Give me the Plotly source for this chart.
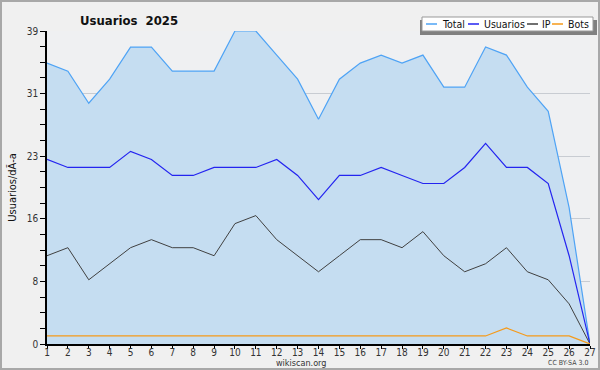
import plotly.graph_objects as go

days = list(range(1, 28))
total = [35, 34, 30, 33, 37, 37, 34, 34, 34, 39, 39, 36, 33, 28, 33, 35, 36, 35, 36, 32, 32, 37, 36, 32, 29, 17, 0]
usuarios = [23, 22, 22, 22, 24, 23, 21, 21, 22, 22, 22, 23, 21, 18, 21, 21, 22, 21, 20, 20, 22, 25, 22, 22, 20, 11, 0]
ip = [11, 12, 8, 10, 12, 13, 12, 12, 11, 15, 16, 13, 11, 9, 11, 13, 13, 12, 14, 11, 9, 10, 12, 9, 8, 5, 0]
bots = [1, 1, 1, 1, 1, 1, 1, 1, 1, 1, 1, 1, 1, 1, 1, 1, 1, 1, 1, 1, 1, 1, 2, 1, 1, 1, 0]
ytick_vals = [0, 7.8, 15.6, 23.4, 31.2, 39]
ytick_text = ["0", "8", "16", "23", "31", "39"]
series_names = ["Total", "Usuarios", "IP", "Bots"]
series_colors = ["#4ea3f5", "#2424f0", "#404040", "#f59a1a"]

W, H = 600, 370
L, R, T, B = 47, 10, 31, 26
pw, ph = W - L - R, H - T - B

fig = go.Figure()
fig.add_trace(go.Scatter(x=days, y=total, name=series_names[0], mode="lines",
                         line=dict(color=series_colors[0], width=1.2),
                         fill="tozeroy", fillcolor="#c5ddf1", showlegend=False))
fig.add_trace(go.Scatter(x=days, y=usuarios, name=series_names[1], mode="lines",
                         line=dict(color=series_colors[1], width=1.2), showlegend=False))
fig.add_trace(go.Scatter(x=days, y=ip, name=series_names[2], mode="lines",
                         line=dict(color=series_colors[2], width=1), showlegend=False))
fig.add_trace(go.Scatter(x=days, y=bots, name=series_names[3], mode="lines",
                         line=dict(color=series_colors[3], width=1.2), showlegend=False))

font = "DejaVu Sans Condensed, DejaVu Sans, sans-serif"

def px_x(p):
    return (p - L) / pw

def px_y(p):
    return (H - B - p) / ph

shapes = [
    dict(type="rect", xref="paper", yref="paper",
         x0=px_x(1), x1=px_x(599), y0=px_y(369), y1=px_y(1),
         line=dict(color="#a8a8a8", width=2), fillcolor="rgba(0,0,0,0)", layer="above"),
    # legend shadow and box
    dict(type="rect", xref="paper", yref="paper",
         x0=px_x(420), x1=px_x(597), y0=px_y(35), y1=px_y(20),
         line=dict(width=0), fillcolor="#808080", layer="above"),
    dict(type="rect", xref="paper", yref="paper",
         x0=px_x(422), x1=px_x(593), y0=px_y(31), y1=px_y(17),
         line=dict(color="#999999", width=1), fillcolor="#ffffff", layer="above"),
]
annotations = [
    dict(text="<b>Usuarios  2025</b>", xref="paper", yref="paper",
         x=px_x(129), y=px_y(20), xanchor="center", yanchor="middle",
         showarrow=False, font=dict(family=font, size=13, color="#111111")),
    dict(text="wikiscan.org", xref="paper", yref="paper",
         x=px_x(301), y=px_y(363), xanchor="center", yanchor="middle",
         showarrow=False, borderpad=0, font=dict(family=font, size=9, color="#333333")),
    dict(text="CC BY-SA 3.0", xref="paper", yref="paper",
         x=px_x(568), y=px_y(363), xanchor="center", yanchor="middle",
         showarrow=False, borderpad=0, font=dict(family=font, size=7, color="#444444")),
]
leg_line_x = [426, 468, 527, 552]
leg_text_x = [442, 484, 542, 568]
for name, color, lx, tx in zip(series_names, series_colors, leg_line_x, leg_text_x):
    shapes.append(dict(type="line", xref="paper", yref="paper",
                       x0=px_x(lx), x1=px_x(lx + 11), y0=px_y(24), y1=px_y(24),
                       line=dict(color=color, width=1.5), layer="above"))
    annotations.append(dict(text=name, xref="paper", yref="paper",
                            x=px_x(tx - 2), y=px_y(24), xanchor="left", yanchor="middle",
                            showarrow=False, font=dict(family=font, size=10.5, color="#111111")))

fig.update_layout(
    width=W, height=H,
    margin=dict(l=L, r=R, t=T, b=B, pad=0, autoexpand=False),
    paper_bgcolor="#f0f0f0",
    plot_bgcolor="#eff0f2",
    font=dict(family=font, size=10, color="#222222"),
    showlegend=False,
    xaxis=dict(range=[1, 27], tickmode="array", tickvals=days, ticktext=[str(d) for d in days],
               showgrid=False, showline=True, linecolor="black", linewidth=1.5,
               ticks="outside", ticklen=3, tickcolor="black", zeroline=False, automargin=False,
               ticklabelstandoff=-5,
               tickfont=dict(family=font, size=10, color="#333333")),
    yaxis=dict(range=[0, 39], tickmode="array", tickvals=ytick_vals, ticktext=ytick_text,
               showgrid=True, gridcolor="#c8ccd2", gridwidth=1, automargin=False,
               showline=True, linecolor="black", linewidth=1.5,
               ticks="outside", ticklen=5, tickcolor="black", zeroline=False,
               tickfont=dict(family=font, size=10, color="#333333"),
               minor=dict(tickmode="linear", tick0=0, dtick=1.95, ticks="outside",
                          ticklen=5, tickcolor="black", showgrid=False),
               title=dict(text="Usuarios/dÃ-a", font=dict(family=font, size=11, color="#111111"),
                          standoff=8)),
    annotations=annotations,
    shapes=shapes,
)

fig.write_html("out.html", config={"displayModeBar": False},
               post_script="document.body.style.margin='0';document.body.style.padding='0';")
